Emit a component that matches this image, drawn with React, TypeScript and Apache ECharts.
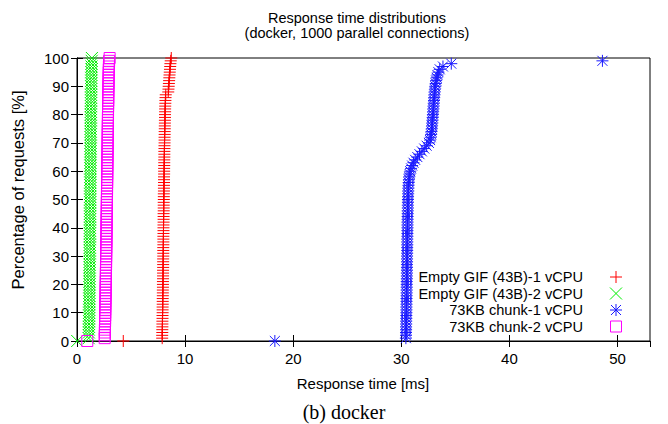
import React, { useEffect, useRef } from "react";
import * as echarts from "echarts";

const TITLE_LINES = ["Response time distributions", "(docker, 1000 parallel connections)"];
const CAPTION = "(b) docker";
const X_NAME = "Response time [ms]";
const Y_NAME = "Percentage of requests [%]";
const X_TICKS = [0, 10, 20, 30, 40, 50];
const X_MAX = 53;
const Y_TICKS = [0, 10, 20, 30, 40, 50, 60, 70, 80, 90, 100];

const SERIES_NAMES = [
  "Empty GIF (43B)-1 vCPU",
  "Empty GIF (43B)-2 vCPU",
  "73KB chunk-1 vCPU",
  "73KB chunk-2 vCPU",
];

const PERCENTILES = [
  0, 1, 2, 3, 4, 5, 6, 7, 8, 9, 10, 11, 12, 13, 14, 15, 16, 17, 18, 19, 20,
  21, 22, 23, 24, 25, 26, 27, 28, 29, 30, 31, 32, 33, 34, 35, 36, 37, 38, 39, 40,
  41, 42, 43, 44, 45, 46, 47, 48, 49, 50, 51, 52, 53, 54, 55, 56, 57, 58, 59, 60,
  61, 62, 63, 64, 65, 66, 67, 68, 69, 70, 71, 72, 73, 74, 75, 76, 77, 78, 79, 80,
  81, 82, 83, 84, 85, 86, 87, 88, 89, 90, 91, 92, 93, 94, 95, 96, 97, 98, 99, 100,
];

// response times [ms] at each percentile
const GIF_1CPU = [
  4.28,
  7.88, 7.88, 7.89, 7.89, 7.90, 7.90, 7.90, 7.91, 7.91, 7.92,
  7.92, 7.92, 7.93, 7.93, 7.93, 7.94, 7.94, 7.94, 7.95, 7.95,
  7.95, 7.96, 7.96, 7.96, 7.96, 7.97, 7.97, 7.97, 7.97, 7.98,
  7.98, 7.98, 7.98, 7.99, 7.99, 7.99, 7.99, 8.00, 8.00, 8.00,
  8.00, 8.01, 8.01, 8.01, 8.01, 8.02, 8.02, 8.02, 8.02, 8.03,
  8.03, 8.03, 8.04, 8.04, 8.04, 8.05, 8.05, 8.05, 8.06, 8.06,
  8.06, 8.07, 8.07, 8.07, 8.08, 8.08, 8.08, 8.09, 8.09, 8.10,
  8.10, 8.10, 8.11, 8.11, 8.12, 8.12, 8.13, 8.13, 8.14, 8.14,
  8.15, 8.15, 8.16, 8.17, 8.18, 8.19, 8.21, 8.44, 8.46, 8.48,
  8.50, 8.52, 8.54, 8.56, 8.58, 8.60, 8.62, 8.64, 8.67, 8.72,
];

const GIF_2CPU = [
  0.02,
  1.08, 1.09, 1.10, 1.10, 1.11, 1.11, 1.12, 1.12, 1.12, 1.13,
  1.13, 1.13, 1.14, 1.14, 1.14, 1.15, 1.15, 1.15, 1.15, 1.16,
  1.16, 1.16, 1.16, 1.17, 1.17, 1.17, 1.17, 1.18, 1.18, 1.18,
  1.18, 1.18, 1.19, 1.19, 1.19, 1.19, 1.19, 1.20, 1.20, 1.20,
  1.20, 1.20, 1.21, 1.21, 1.21, 1.21, 1.21, 1.22, 1.22, 1.22,
  1.22, 1.22, 1.23, 1.23, 1.23, 1.23, 1.23, 1.24, 1.24, 1.24,
  1.24, 1.24, 1.25, 1.25, 1.25, 1.25, 1.25, 1.26, 1.26, 1.26,
  1.26, 1.26, 1.27, 1.27, 1.27, 1.27, 1.28, 1.28, 1.28, 1.28,
  1.29, 1.29, 1.29, 1.29, 1.30, 1.30, 1.30, 1.31, 1.31, 1.31,
  1.32, 1.32, 1.32, 1.33, 1.33, 1.34, 1.34, 1.35, 1.36, 1.38,
];

// the 100th percentile lies beyond the axis range, so 0..99 only
const CHUNK_1CPU = [
  18.30,
  30.42, 30.43, 30.43, 30.44, 30.44, 30.45, 30.45, 30.46, 30.46, 30.47,
  30.47, 30.47, 30.48, 30.48, 30.48, 30.49, 30.49, 30.49, 30.50, 30.50,
  30.50, 30.51, 30.51, 30.51, 30.52, 30.52, 30.52, 30.53, 30.53, 30.53,
  30.54, 30.54, 30.54, 30.55, 30.55, 30.55, 30.56, 30.56, 30.56, 30.57,
  30.57, 30.57, 30.58, 30.58, 30.59, 30.59, 30.60, 30.60, 30.61, 30.61,
  30.62, 30.63, 30.64, 30.65, 30.66, 30.68, 30.70, 30.73, 30.77, 30.82,
  30.90, 31.00, 31.12, 31.28, 31.48, 31.68, 31.90, 32.12, 32.34, 32.55,
  32.66, 32.72, 32.76, 32.79, 32.82, 32.84, 32.86, 32.88, 32.90, 32.92,
  32.94, 32.96, 32.98, 33.00, 33.02, 33.04, 33.06, 33.08, 33.11, 33.14,
  33.18, 33.22, 33.27, 33.34, 33.43, 33.55, 33.85, 34.62, 48.60,
];

const CHUNK_2CPU = [
  0.95,
  2.56, 2.57, 2.58, 2.58, 2.59, 2.59, 2.60, 2.60, 2.61, 2.61,
  2.62, 2.62, 2.63, 2.63, 2.64, 2.64, 2.65, 2.65, 2.65, 2.66,
  2.66, 2.67, 2.67, 2.67, 2.68, 2.68, 2.69, 2.69, 2.69, 2.70,
  2.70, 2.70, 2.71, 2.71, 2.72, 2.72, 2.72, 2.73, 2.73, 2.73,
  2.74, 2.74, 2.74, 2.75, 2.75, 2.75, 2.76, 2.76, 2.76, 2.77,
  2.77, 2.77, 2.78, 2.78, 2.78, 2.79, 2.79, 2.79, 2.80, 2.80,
  2.80, 2.81, 2.81, 2.81, 2.82, 2.82, 2.82, 2.83, 2.83, 2.83,
  2.84, 2.84, 2.84, 2.85, 2.85, 2.85, 2.86, 2.86, 2.86, 2.87,
  2.87, 2.87, 2.88, 2.88, 2.89, 2.89, 2.89, 2.90, 2.90, 2.91,
  2.91, 2.92, 2.92, 2.93, 2.93, 2.94, 2.95, 2.96, 2.97, 3.02,
];

const SERIES_VALUES = [GIF_1CPU, GIF_2CPU, CHUNK_1CPU, CHUNK_2CPU];
const COLORS = ["#ff0000", "#00ee00", "#1a1aff", "#ff00ff"];
const SYMBOLS = [
  "path://M0,6L12,6M6,0L6,12",
  "path://M0,0L12,12M12,0L0,12",
  "path://M0,6L12,6M6,0L6,12M1,1L11,11M11,1L1,11",
  "path://M0,0L11,0L11,11L0,11Z",
];
const SYMBOL_SIZES = [12, 12, 12, 11];

const FONT = "'Liberation Sans', Arial, sans-serif";

// legend marker drawn with plain graphic lines/rects (same glyphs as the series symbols)
function legendIcon(i: number, cx: number, cy: number) {
  const stroke = { stroke: COLORS[i], lineWidth: 1, fill: "none" };
  const ln = (x1: number, y1: number, x2: number, y2: number) => ({
    type: "line",
    shape: { x1: cx + x1, y1: cy + y1, x2: cx + x2, y2: cy + y2 },
    style: stroke,
    silent: true,
  });
  if (i === 0) return [ln(-6, 0, 6, 0), ln(0, -6, 0, 6)];
  if (i === 1) return [ln(-6, -6, 6, 6), ln(6, -6, -6, 6)];
  if (i === 2)
    return [ln(-6, 0, 6, 0), ln(0, -6, 0, 6), ln(-5, -5, 5, 5), ln(5, -5, -5, 5)];
  return [
    {
      type: "rect",
      shape: { x: cx - 5.5, y: cy - 5.5, width: 11, height: 11 },
      style: stroke,
      silent: true,
    },
  ];
}

export default function App() {
  const ref = useRef<HTMLDivElement>(null);

  useEffect(() => {
    if (!ref.current) return;
    const chart = echarts.init(ref.current, null, { renderer: "svg" });

    const axisCommon = {
      axisLine: { show: true, lineStyle: { color: "#000", width: 1 } },
      axisTick: { show: true, inside: true, length: 6, lineStyle: { color: "#000", width: 1 } },
      splitLine: { show: false },
    };

    const series = SERIES_VALUES.map((vals, i) => ({
      type: "scatter",
      name: SERIES_NAMES[i],
      xAxisIndex: 0,
      yAxisIndex: 0,
      symbol: SYMBOLS[i],
      symbolSize: SYMBOL_SIZES[i],
      symbolKeepAspect: true,
      itemStyle: { color: "rgba(0,0,0,0)", borderColor: COLORS[i], borderWidth: 1, opacity: 1 },
      emphasis: { disabled: true },
      silent: true,
      clip: true,
      data: vals.map((v, j) => [v, PERCENTILES[j]]),
    }));

    const LEGEND_Y = [277, 293.5, 310, 326.5];
    const legendGraphics: any[] = [];
    SERIES_NAMES.forEach((n, i) => {
      legendGraphics.push({
        type: "text",
        x: 583,
        y: LEGEND_Y[i],
        silent: true,
        style: {
          text: n,
          font: `14.6px ${FONT}`,
          fill: "#000",
          align: "right",
          verticalAlign: "middle",
        },
      });
      legendIcon(i, 616, LEGEND_Y[i]).forEach((g) => legendGraphics.push(g));
    });

    chart.setOption({
      animation: false,
      backgroundColor: "#fff",
      textStyle: { fontFamily: FONT },
      grid: {
        left: 77,
        right: 18,
        top: 58,
        bottom: 83,
        show: true,
        borderColor: "#000",
        borderWidth: 1,
        backgroundColor: "transparent",
      },
      xAxis: [
        {
          type: "value",
          position: "bottom",
          min: X_TICKS[0],
          max: X_MAX,
          interval: X_TICKS[1] - X_TICKS[0],
          ...axisCommon,
          axisLabel: {
            show: true,
            margin: 10,
            fontSize: 15,
            color: "#000",
            fontFamily: FONT,
            showMaxLabel: false,
            formatter: (v: number) => (X_TICKS.includes(v) ? String(v) : ""),
          },
        },
        {
          type: "value",
          position: "top",
          min: X_TICKS[0],
          max: X_MAX,
          interval: X_TICKS[1] - X_TICKS[0],
          ...axisCommon,
          axisLabel: { show: false },
        },
      ],
      yAxis: [
        {
          type: "value",
          position: "left",
          min: Y_TICKS[0],
          max: Y_TICKS[Y_TICKS.length - 1],
          interval: Y_TICKS[1] - Y_TICKS[0],
          ...axisCommon,
          axisLabel: { show: true, margin: 8, fontSize: 15, color: "#000", fontFamily: FONT },
        },
        {
          type: "value",
          position: "right",
          min: Y_TICKS[0],
          max: Y_TICKS[Y_TICKS.length - 1],
          interval: Y_TICKS[1] - Y_TICKS[0],
          ...axisCommon,
          axisLabel: { show: false },
        },
      ],
      graphic: [
        {
          type: "text",
          x: 357,
          y: 18,
          style: {
            text: TITLE_LINES[0],
            font: `14.5px ${FONT}`,
            fill: "#000",
            align: "center",
            verticalAlign: "middle",
          },
        },
        {
          type: "text",
          x: 357,
          y: 33,
          style: {
            text: TITLE_LINES[1],
            font: `14.5px ${FONT}`,
            fill: "#000",
            align: "center",
            verticalAlign: "middle",
          },
        },
        {
          type: "text",
          x: 363,
          y: 383,
          style: {
            text: X_NAME,
            font: `15px ${FONT}`,
            fill: "#000",
            align: "center",
            verticalAlign: "middle",
          },
        },
        {
          type: "text",
          x: 18,
          y: 190,
          rotation: Math.PI / 2,
          style: {
            text: Y_NAME,
            font: `16.5px ${FONT}`,
            fill: "#000",
            align: "center",
            verticalAlign: "middle",
          },
        },
        {
          type: "text",
          x: 344,
          y: 412,
          style: {
            text: CAPTION,
            font: "20px 'Liberation Serif', 'Times New Roman', serif",
            fill: "#000",
            align: "center",
            verticalAlign: "middle",
          },
        },
        ...legendGraphics,
      ],
      series,
    });

    return () => chart.dispose();
  }, []);

  return (
    <div
      ref={ref}
      style={{ position: "fixed", left: 0, top: 0, width: 668, height: 424, background: "#fff" }}
    />
  );
}
